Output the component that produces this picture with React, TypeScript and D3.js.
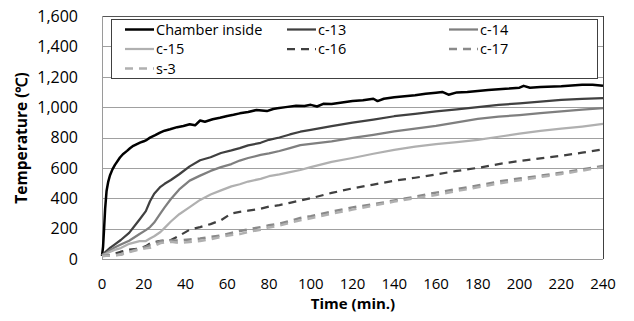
import React from "react";
import * as d3 from "d3";

const W = 634;
const H = 321;

const yTicks = [0, 200, 400, 600, 800, 1000, 1200, 1400, 1600];
const xTicks = [0, 20, 40, 60, 80, 100, 120, 140, 160, 180, 200, 220, 240];

const chamberTime = [0, 0.5, 1, 1.5, 2.2, 3, 3.8, 5, 6.2, 8.6, 10, 12, 13.4, 15, 16.5, 18.2, 20, 21.5, 23, 25.5, 27.8, 30, 32.6, 36, 39, 42, 44.6, 47, 49.3, 53, 56.5, 60, 63, 66, 70, 74, 76.5, 79, 82, 84, 88, 93, 97, 100, 103, 106, 110, 115, 120, 125, 130, 132, 135, 140, 145, 150, 155, 160, 163, 166, 170, 175, 180, 185, 190, 195, 200, 202, 205, 210, 220, 230, 235, 240];
const chamberInside = [20, 80, 200, 330, 450, 510, 550, 590, 620, 668, 690, 712, 729, 745, 755, 766, 775, 785, 799, 815, 832, 845, 854, 868, 876, 887, 880, 912, 904, 920, 930, 942, 950, 959, 968, 981, 978, 974, 988, 992, 1000, 1009, 1008, 1015, 1004, 1022, 1020, 1030, 1040, 1045, 1055, 1040, 1055, 1065, 1072, 1078, 1088, 1095, 1100, 1082, 1097, 1100, 1106, 1112, 1118, 1122, 1128, 1140, 1128, 1132, 1138, 1148, 1148, 1140];

const time = [0, 2, 4, 6, 9, 13, 18, 21, 23, 25, 28, 30, 33, 37, 42, 47, 52, 57, 62, 66, 70, 76, 80, 85, 90, 95, 100, 110, 120, 130, 140, 150, 160, 170, 180, 190, 200, 210, 220, 230, 240];
const c13 = [25, 50, 75, 95, 125, 172, 260, 315, 380, 430, 475, 495, 520, 558, 610, 650, 670, 698, 715, 730, 748, 765, 785, 800, 820, 838, 850, 875, 898, 918, 940, 955, 972, 985, 1000, 1015, 1025, 1036, 1048, 1055, 1060];
const c14 = [25, 40, 60, 75, 95, 120, 165, 190, 210, 240, 300, 340, 395, 458, 516, 549, 580, 605, 625, 648, 665, 685, 695, 711, 730, 750, 758, 775, 798, 818, 840, 858, 876, 900, 922, 937, 948, 960, 972, 983, 993];
const c15 = [25, 35, 48, 60, 72, 100, 118, 118, 135, 150, 178, 205, 247, 295, 342, 389, 425, 452, 478, 492, 510, 528, 545, 557, 572, 586, 605, 640, 665, 693, 718, 740, 757, 770, 785, 805, 825, 843, 858, 872, 889];
const c16 = [20, 22, 26, 35, 48, 62, 69, 85, 102, 112, 119, 121, 125, 153, 193, 210, 230, 255, 300, 310, 318, 331, 345, 355, 370, 385, 400, 435, 465, 490, 515, 535, 557, 580, 600, 625, 645, 663, 680, 700, 722];
const c17 = [20, 22, 24, 26, 30, 48, 69, 80, 90, 100, 117, 120, 122, 122, 128, 135, 145, 155, 172, 184, 195, 210, 222, 232, 250, 270, 282, 312, 340, 360, 385, 410, 437, 460, 484, 510, 530, 548, 568, 590, 612];
const s3 = [20, 21, 22, 24, 28, 45, 62, 70, 74, 85, 105, 110, 113, 106, 112, 119, 130, 146, 158, 164, 178, 193, 208, 220, 238, 255, 268, 298, 325, 352, 378, 400, 422, 448, 472, 498, 518, 540, 560, 582, 605];

const seriesNames = ["Chamber inside", "c-13", "c-14", "c-15", "c-16", "c-17", "s-3"];

type Style = { color: string; width: number; dash?: string };
const styles: Style[] = [
  { color: "#000000", width: 2.5 },
  { color: "#404040", width: 2.25 },
  { color: "#7f7f7f", width: 2.25 },
  { color: "#b0b0b0", width: 2.25 },
  { color: "#404040", width: 2.25, dash: "8,6" },
  { color: "#8a8a8a", width: 2.5, dash: "8,6" },
  { color: "#b0b0b0", width: 2.5, dash: "8,6" },
];

const FONT = "'Open Sans', sans-serif";

export default function App() {
  const left = 102, right = 603, top = 16, bottom = 259;
  const x = d3.scaleLinear().domain([0, 240]).range([left, right]);
  const y = d3.scaleLinear().domain([0, 1600]).range([bottom, top]);

  const seriesData: [number, number][][] = [
    chamberTime.map((t, i) => [t, chamberInside[i]]),
    time.map((t, i) => [t, c13[i]]),
    time.map((t, i) => [t, c14[i]]),
    time.map((t, i) => [t, c15[i]]),
    time.map((t, i) => [t, c16[i]]),
    time.map((t, i) => [t, c17[i]]),
    time.map((t, i) => [t, s3[i]]),
  ];

  const line = d3
    .line<[number, number]>()
    .x((d) => x(d[0]))
    .y((d) => y(d[1]));

  const legX = 111, legY = 19, legW = 486, legH = 59;
  const colX = [125, 287, 449];
  const rowY = [29.5, 49, 68.5];

  return (
    <svg width={W} height={H} style={{ position: "absolute", left: 0, top: 0, background: "#fff" }}>
      <rect x={0} y={0} width={W} height={H} fill="#fff" />
      {yTicks.slice(1, -1).map((v) => (
        <line key={v} x1={left} x2={right} y1={Math.round(y(v)) + 0.5} y2={Math.round(y(v)) + 0.5} stroke="#a0a0a0" strokeWidth={1} />
      ))}
      <line x1={left} x2={right} y1={top + 0.5} y2={top + 0.5} stroke="#555" strokeWidth={1} />
      <line x1={right + 0.5} x2={right + 0.5} y1={top} y2={bottom} stroke="#404040" strokeWidth={1} />
      <line x1={left + 0.5} x2={left + 0.5} y1={top} y2={bottom} stroke="#9a9a9a" strokeWidth={1} />
      <line x1={left} x2={right} y1={bottom + 0.5} y2={bottom + 0.5} stroke="#9a9a9a" strokeWidth={1} />

      {seriesData.map((d, i) => (
        <path
          key={seriesNames[i]}
          d={line(d) || ""}
          fill="none"
          stroke={styles[i].color}
          strokeWidth={styles[i].width}
          strokeDasharray={styles[i].dash}
          strokeLinejoin="round"
        />
      ))}

      {yTicks.map((v) => (
        <text key={v} x={78} y={y(v)} dy="0.36em" textAnchor="end" fontFamily={FONT} fontSize={16} fill="#000">
          {d3.format(",")(v)}
        </text>
      ))}
      {xTicks.map((v) => (
        <text key={v} x={x(v)} y={289} textAnchor="middle" fontFamily={FONT} fontSize={15} fill="#000">
          {v}
        </text>
      ))}
      <text x={353} y={309} textAnchor="middle" fontFamily={FONT} fontSize={15} fontWeight="bold" fill="#000">
        Time (min.)
      </text>
      <text
        transform={`translate(27,138) rotate(-90)`}
        textAnchor="middle"
        fontFamily={FONT}
        fontSize={15.5}
        fontWeight="bold"
        fill="#000"
      >
        Temperature (℃)
      </text>

      <rect x={legX + 0.5} y={legY + 0.5} width={legW} height={legH} fill="#fff" stroke="#404040" strokeWidth={1} />
      {seriesNames.map((name, i) => {
        const cx = colX[i % 3];
        const cy = rowY[Math.floor(i / 3)];
        return (
          <g key={name}>
            <line
              x1={cx}
              x2={cx + 29}
              y1={cy}
              y2={cy}
              stroke={styles[i].color}
              strokeWidth={styles[i].width}
              strokeDasharray={styles[i].dash}
            />
            <text x={cx + 31} y={cy} dy="0.36em" fontFamily={FONT} fontSize={14.5} fill="#000">
              {name}
            </text>
          </g>
        );
      })}
    </svg>
  );
}
